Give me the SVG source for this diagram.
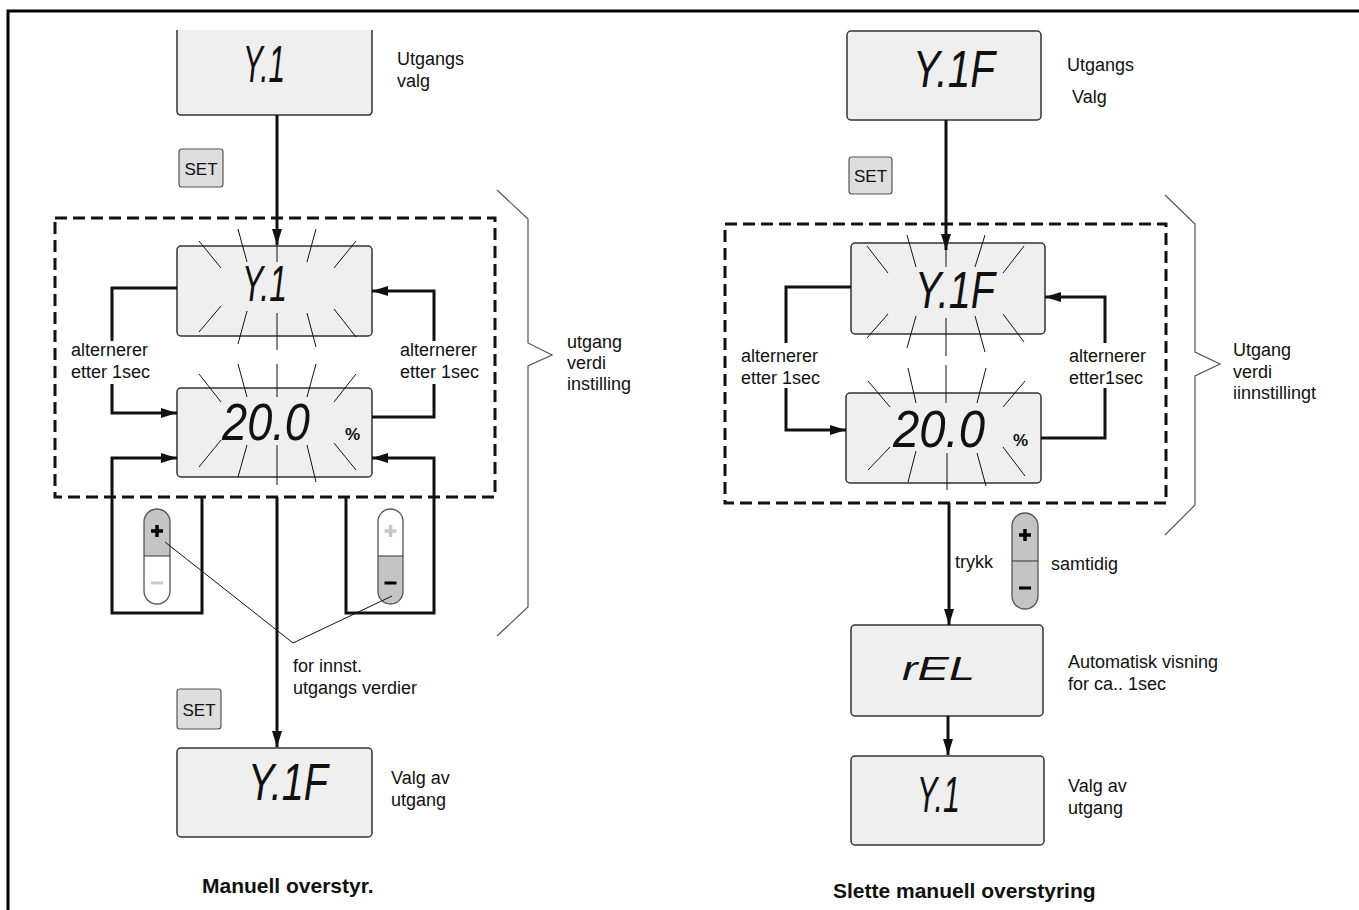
<svg xmlns="http://www.w3.org/2000/svg" width="1359" height="910" viewBox="0 0 1359 910">
<defs>
<marker id="arr" markerUnits="userSpaceOnUse" markerWidth="16" markerHeight="10" refX="16" refY="5" orient="auto">
<path d="M0,0 L16,5 L0,10 z" fill="#111"/>
</marker>
<style>
.disp{fill:#efefef;stroke:#333;stroke-width:1.5}
.seg{font-family:"Liberation Sans",Arial,sans-serif;font-style:italic;fill:#111}
.lbl{font-family:"Liberation Sans",Arial,sans-serif;font-size:18px;fill:#111}
.ttl{font-family:"Liberation Sans",Arial,sans-serif;font-size:21px;font-weight:bold;fill:#111}
.pct{font-family:"Liberation Sans",Arial,sans-serif;font-size:17px;font-weight:bold;fill:#111}
.set{fill:#ddd;stroke:#555;stroke-width:1.2}
.settx{font-family:"Liberation Sans",Arial,sans-serif;font-size:17px;fill:#111;text-anchor:middle}
.con{fill:none;stroke:#111;stroke-width:3}
.ray{stroke:#111;stroke-width:1}
.dash{fill:none;stroke:#111;stroke-width:3;stroke-dasharray:12 6}
.brace{fill:none;stroke:#555;stroke-width:1.2}
.lead{fill:none;stroke:#111;stroke-width:1}
.bgray{fill:#c4c4c4}
.bwhite{fill:#fff}
.bout{fill:none;stroke:#555;stroke-width:1.3}
</style>
</defs>

<g id="frame">
<path d="M8,910 V11 H1359" fill="none" stroke="#000" stroke-width="3"/>
</g>

<!-- LEFT DIAGRAM -->
<g id="l-disp-top">
<path class="disp" d="M177,30 V111 Q177,115 181,115 H368 Q372,115 372,111 V30"/>
<text class="seg" x="243" y="82" font-size="52" textLength="42" lengthAdjust="spacingAndGlyphs">Y.1</text>
</g>
<g id="l-label-top">
<text class="lbl" x="397" y="65">Utgangs</text>
<text class="lbl" x="397" y="87">valg</text>
</g>
<g id="l-set1"><rect class="set" x="179" y="149" width="44" height="38" rx="3"/><text class="settx" x="201" y="175">SET</text></g>

<g id="l-dashed"><rect class="dash" x="55" y="218" width="440" height="279"/></g>

<g id="l-disp-flash1">
<rect class="disp" x="177" y="246" width="195" height="90" rx="4"/>
<text class="seg" x="242" y="301" font-size="50" textLength="45" lengthAdjust="spacingAndGlyphs">Y.1</text>
<g class="ray">
<line x1="199" y1="241" x2="221" y2="268"/><line x1="238" y1="229" x2="247" y2="262"/><line x1="277" y1="246" x2="277" y2="262"/><line x1="316" y1="229" x2="307" y2="262"/><line x1="356" y1="241" x2="334" y2="268"/>
<line x1="199" y1="332" x2="221" y2="306"/><line x1="238" y1="344" x2="247" y2="311"/><line x1="277" y1="350" x2="277" y2="313"/><line x1="316" y1="347" x2="307" y2="313"/><line x1="356" y1="337" x2="334" y2="309"/>
</g>
</g>
<g id="l-disp-flash2">
<rect class="disp" x="177" y="388" width="195" height="89" rx="4"/>
<text class="seg" x="222" y="440" font-size="52" textLength="88" lengthAdjust="spacingAndGlyphs">20.0</text>
<text class="pct" x="345" y="440">%</text>
<g class="ray">
<line x1="199" y1="374" x2="221" y2="402"/><line x1="238" y1="364" x2="247" y2="397"/><line x1="277" y1="364" x2="277" y2="397"/><line x1="316" y1="364" x2="307" y2="397"/><line x1="356" y1="374" x2="334" y2="402"/>
<line x1="199" y1="467" x2="221" y2="440"/><line x1="238" y1="477" x2="247" y2="445"/><line x1="277" y1="485" x2="277" y2="445"/><line x1="316" y1="482" x2="307" y2="445"/><line x1="356" y1="470" x2="334" y2="443"/>
</g>
</g>
<g id="l-alt-left"><text class="lbl" x="71" y="356">alternerer</text><text class="lbl" x="71" y="378">etter 1sec</text></g>
<g id="l-alt-right"><text class="lbl" x="400" y="356">alternerer</text><text class="lbl" x="400" y="378">etter 1sec</text></g>

<g id="l-btn-plus">
<path class="bgray" d="M144,556 V522 A13,13 0 0 1 170,522 V556 Z"/>
<path class="bwhite" d="M144,556 V591 A13,13 0 0 0 170,591 V556 Z"/>
<rect class="bout" x="144" y="509" width="26" height="95" rx="13"/>
<line x1="144" y1="556" x2="170" y2="556" stroke="#333" stroke-width="1"/>
<path d="M151,531 H163 M157,525 V537" stroke="#000" stroke-width="3.5"/>
<path d="M151,583 H163" stroke="#c8c8c8" stroke-width="3"/>
</g>
<g id="l-btn-minus">
<path class="bwhite" d="M378,556 V522 A12.5,13 0 0 1 403,522 V556 Z"/>
<path class="bgray" d="M378,556 V591 A12.5,13 0 0 0 403,591 V556 Z"/>
<rect class="bout" x="378" y="509" width="25" height="95" rx="12.5"/>
<line x1="378" y1="556" x2="403" y2="556" stroke="#333" stroke-width="1"/>
<path d="M384.5,531 H396.5 M390.5,525 V537" stroke="#c8c8c8" stroke-width="3.5"/>
<path d="M384.5,583 H396.5" stroke="#000" stroke-width="3"/>
</g>
<g id="l-lead-label"><text class="lbl" x="293" y="672">for innst.</text><text class="lbl" x="293" y="694">utgangs verdier</text></g>

<g id="l-brace">
<path class="brace" d="M497,190 L528,219 V343 L552,355 L528,366 V607 L497,636"/>
<text class="lbl" x="567" y="348">utgang</text><text class="lbl" x="567" y="369">verdi</text><text class="lbl" x="567" y="390">instilling</text>
</g>

<g id="l-set2"><rect class="set" x="177" y="689" width="44" height="40" rx="3"/><text class="settx" x="199" y="716">SET</text></g>
<g id="l-disp-bottom">
<rect class="disp" x="177" y="748" width="195" height="89" rx="4"/>
<text class="seg" x="248" y="800" font-size="52" textLength="80" lengthAdjust="spacingAndGlyphs">Y.1F</text>
</g>
<g id="l-label-bottom"><text class="lbl" x="391" y="784">Valg av</text><text class="lbl" x="391" y="806">utgang</text></g>
<g id="l-title"><text class="ttl" x="202" y="893">Manuell overstyr.</text></g>

<!-- RIGHT DIAGRAM -->
<g id="r-disp-top">
<rect class="disp" x="847" y="31" width="194" height="89" rx="4"/>
<text class="seg" x="913" y="87" font-size="52" textLength="82" lengthAdjust="spacingAndGlyphs">Y.1F</text>
</g>
<g id="r-label-top"><text class="lbl" x="1067" y="71">Utgangs</text><text class="lbl" x="1072" y="103">Valg</text></g>
<g id="r-set"><rect class="set" x="849" y="157" width="43" height="37" rx="3"/><text class="settx" x="870.5" y="182">SET</text></g>

<g id="r-dashed"><rect class="dash" x="725" y="224" width="441" height="279"/></g>

<g id="r-disp-flash1">
<rect class="disp" x="851" y="243" width="194" height="91" rx="4"/>
<text class="seg" x="915" y="308" font-size="52" textLength="80" lengthAdjust="spacingAndGlyphs">Y.1F</text>
<g class="ray">
<line x1="867" y1="246" x2="888" y2="273"/><line x1="907" y1="235" x2="916" y2="267"/><line x1="946" y1="250" x2="946" y2="267"/><line x1="985" y1="235" x2="975" y2="267"/><line x1="1024" y1="246" x2="1003" y2="273"/>
<line x1="867" y1="338" x2="888" y2="314"/><line x1="907" y1="348" x2="916" y2="316"/><line x1="946" y1="356" x2="946" y2="318"/><line x1="985" y1="352" x2="975" y2="316"/><line x1="1024" y1="342" x2="1003" y2="314"/>
</g>
</g>
<g id="r-disp-flash2">
<rect class="disp" x="846" y="393" width="195" height="90" rx="4"/>
<text class="seg" x="893" y="447" font-size="52" textLength="92" lengthAdjust="spacingAndGlyphs">20.0</text>
<text class="pct" x="1013" y="446">%</text>
<g class="ray">
<line x1="868" y1="381" x2="890" y2="407"/><line x1="908" y1="368" x2="916" y2="403"/><line x1="946" y1="365" x2="946" y2="403"/><line x1="986" y1="368" x2="977" y2="403"/><line x1="1025" y1="381" x2="1003" y2="407"/>
<line x1="868" y1="470" x2="890" y2="447"/><line x1="908" y1="482" x2="916" y2="451"/><line x1="947" y1="490" x2="947" y2="453"/><line x1="986" y1="486" x2="977" y2="453"/><line x1="1025" y1="476" x2="1003" y2="447"/>
</g>
</g>
<g id="r-alt-left"><text class="lbl" x="741" y="362">alternerer</text><text class="lbl" x="741" y="384">etter 1sec</text></g>
<g id="r-alt-right"><text class="lbl" x="1069" y="362">alternerer</text><text class="lbl" x="1069" y="384">etter1sec</text></g>

<g id="r-brace">
<path class="brace" d="M1165,195 L1195,224 V352 L1220,364 L1195,376 V505 L1165,535"/>
<text class="lbl" x="1233" y="356">Utgang</text><text class="lbl" x="1233" y="378">verdi</text><text class="lbl" x="1233" y="399">iinnstillingt</text>
</g>

<g id="r-trykk"><text class="lbl" x="955" y="568" font-size="20">trykk</text></g>
<g id="r-btn">
<rect class="bgray" x="1012" y="513" width="26" height="96" rx="13"/>
<rect class="bout" x="1012" y="513" width="26" height="96" rx="13"/>
<line x1="1012" y1="561" x2="1038" y2="561" stroke="#333" stroke-width="1"/>
<path d="M1019,535 H1031 M1025,529 V541" stroke="#000" stroke-width="3.5"/>
<path d="M1019,588 H1031" stroke="#000" stroke-width="3"/>
</g>
<g id="r-samtidig"><text class="lbl" x="1051" y="570">samtidig</text></g>

<g id="r-disp-rel">
<rect class="disp" x="851" y="625" width="192" height="91" rx="4"/>
<text class="seg" x="902" y="680" font-size="34" textLength="73" lengthAdjust="spacingAndGlyphs">rEL</text>
</g>
<g id="r-label-rel"><text class="lbl" x="1068" y="668">Automatisk visning</text><text class="lbl" x="1068" y="690">for ca.. 1sec</text></g>
<g id="r-disp-bottom">
<rect class="disp" x="851" y="756" width="193" height="89" rx="4"/>
<text class="seg" x="917" y="812" font-size="50" textLength="43" lengthAdjust="spacingAndGlyphs">Y.1</text>
</g>
<g id="r-label-bottom"><text class="lbl" x="1068" y="792">Valg av</text><text class="lbl" x="1068" y="814">utgang</text></g>
<g id="r-title"><text class="ttl" x="833" y="898">Slette manuell overstyring</text></g>

<g id="connectors">
<path class="con" d="M277,115 V245" marker-end="url(#arr)"/>
<path class="con" d="M177,288 H112 V341"/>
<path class="con" d="M112,384 V413 H177" marker-end="url(#arr)"/>
<path class="con" d="M372,417 H434 V384"/>
<path class="con" d="M434,341 V291 H372" marker-end="url(#arr)"/>
<path class="con" d="M202,497 V613 H112 V458 H177" marker-end="url(#arr)"/>
<path class="con" d="M346,497 V613 H434 V458 H372" marker-end="url(#arr)"/>
<path class="con" d="M277,497 V747" marker-end="url(#arr)"/>
<path class="lead" d="M165,542 L293,643 L392,596"/>
<path class="con" d="M946,120 V250" marker-end="url(#arr)"/>
<path class="con" d="M851,287 H786 V343"/>
<path class="con" d="M786,388 V430 H846" marker-end="url(#arr)"/>
<path class="con" d="M1041,438 H1105 V388"/>
<path class="con" d="M1105,343 V297 H1045" marker-end="url(#arr)"/>
<path class="con" d="M949,503 V625" marker-end="url(#arr)"/>
<path class="con" d="M948,716 V755" marker-end="url(#arr)"/>
</g>
</svg>
